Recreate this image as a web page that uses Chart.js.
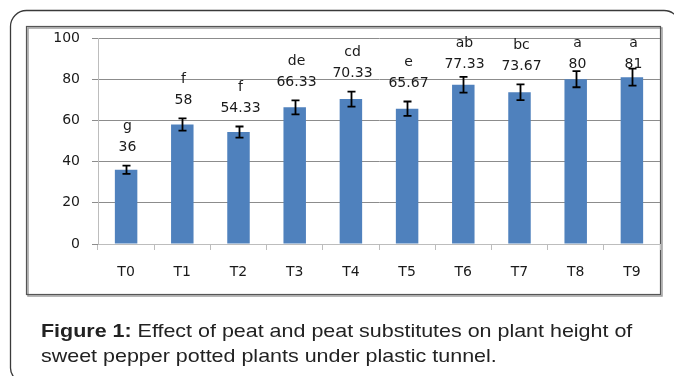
<!DOCTYPE html>
<html><head><meta charset="utf-8">
<script src="https://cdn.jsdelivr.net/npm/chart.js@4"></script>
<style>html,body{margin:0;padding:0;background:#fff}#wrap{width:674px;height:376px;position:relative}</style>
</head><body><div id="wrap"><canvas id="c" width="674" height="376"></canvas></div>
<script>
const categories = ['T0','T1','T2','T3','T4','T5','T6','T7','T8','T9'];
const heights = [36, 58, 54.33, 66.33, 70.33, 65.67, 77.33, 73.67, 80, 81];
const errors = [2, 3, 2.7, 3.4, 3.6, 3.5, 3.8, 3.8, 3.9, 4.1];
const letters = ['g','f','f','de','cd','e','ab','bc','a','a'];
const yTicks = [0, 20, 40, 60, 80, 100];
const captionBold = 'Figure 1:';
const captionLine1 = ' Effect of peat and peat substitutes on plant height of';
const captionLine2 = 'sweet pepper potted plants under plastic tunnel.';

const LABEL_FONT = '14px "DejaVu Sans"';

const framePlugin = {
  id: 'frame',
  beforeDraw(chart) {
    const ctx = chart.ctx;
    ctx.save();
    // outer rounded frame (runs off the canvas at right and bottom)
    ctx.strokeStyle = '#3a3a3a';
    ctx.lineWidth = 1.3;
    ctx.beginPath();
    const r = 16;
    ctx.moveTo(40, 382);
    ctx.arcTo(10.5, 382, 10.5, 360, 14);
    ctx.lineTo(10.5, 10.5 + r);
    ctx.arcTo(10.5, 10.5, 10.5 + r, 10.5, r);
    ctx.lineTo(680 - r, 10.5);
    ctx.arcTo(680, 10.5, 680, 10.5 + r, r);
    ctx.lineTo(680, 380);
    ctx.stroke();
    // inner chart box with shadow
    ctx.strokeStyle = '#a0a0a0';
    ctx.lineWidth = 1.5;
    ctx.strokeRect(28, 28, 634, 268);
    ctx.strokeStyle = '#555';
    ctx.lineWidth = 1.2;
    ctx.strokeRect(26.5, 26.5, 634, 268);
    // caption (horizontally stretched like the reference)
    ctx.fillStyle = '#222';
    ctx.textBaseline = 'alphabetic';
    ctx.textAlign = 'left';
    const sx = 1.16;
    ctx.translate(41, 0);
    ctx.scale(sx, 1);
    ctx.font = 'bold 18.5px "Liberation Sans"';
    ctx.fillText(captionBold, 0, 336.5);
    const bw = ctx.measureText(captionBold).width;
    ctx.font = '18.5px "Liberation Sans"';
    ctx.fillText(captionLine1, bw, 336.5);
    ctx.fillText(captionLine2, 0, 361.5);
    ctx.restore();
  },
  afterDatasetsDraw(chart) {
    const ctx = chart.ctx;
    const meta = chart.getDatasetMeta(0);
    const y = chart.scales.y;
    ctx.save();
    ctx.strokeStyle = '#000';
    ctx.lineWidth = 1.8;
    meta.data.forEach((bar, i) => {
      const x = Math.round(bar.x) + 0.5;
      const top = y.getPixelForValue(heights[i] + errors[i]);
      const bot = y.getPixelForValue(heights[i] - errors[i]);
      ctx.beginPath();
      ctx.moveTo(x, top); ctx.lineTo(x, bot);
      ctx.moveTo(x - 4, top); ctx.lineTo(x + 4, top);
      ctx.moveTo(x - 4, bot); ctx.lineTo(x + 4, bot);
      ctx.stroke();
      // labels
      let vy = top - 18;
      if (vy < 64) vy = 64;
      ctx.fillStyle = '#1a1a1a';
      ctx.font = LABEL_FONT;
      ctx.textAlign = 'center';
      ctx.textBaseline = 'middle';
      ctx.fillText(String(heights[i]), x + 1, vy);
      ctx.fillText(letters[i], x + 1, vy - 21);
    });
    ctx.restore();
  }
};

new Chart(document.getElementById('c'), {
  type: 'bar',
  data: {
    labels: categories,
    datasets: [{
      data: heights,
      backgroundColor: '#4F81BD',
      borderWidth: 0,
      barPercentage: 0.8,
      categoryPercentage: 0.5
    }]
  },
  options: {
    responsive: false,
    animation: false,
    devicePixelRatio: 1,
    layout: { padding: { left: 0, top: 38, right: 14, bottom: 92 } },
    plugins: { legend: { display: false }, tooltip: { enabled: false } },
    scales: {
      y: {
        min: 0, max: 100,
        afterFit(s) { s.width = 98; },
        afterBuildTicks(s) { s.ticks = yTicks.map(v => ({ value: v })); },
        ticks: { color: '#1a1a1a', font: { family: 'DejaVu Sans', size: 14 }, padding: 12 },
        grid: { color: '#8c8c8c', lineWidth: 1, tickLength: 6, tickColor: '#8c8c8c' },
        border: { color: '#bdbdbd', width: 1 }
      },
      x: {
        afterFit(s) { s.height = 40; },
        ticks: { color: '#1a1a1a', font: { family: 'DejaVu Sans', size: 14 }, padding: 14 },
        grid: { drawOnChartArea: false, tickLength: 6, color: '#bdbdbd', offset: true },
        border: { color: '#bdbdbd', width: 1 }
      }
    }
  },
  plugins: [framePlugin]
});
</script></body></html>
